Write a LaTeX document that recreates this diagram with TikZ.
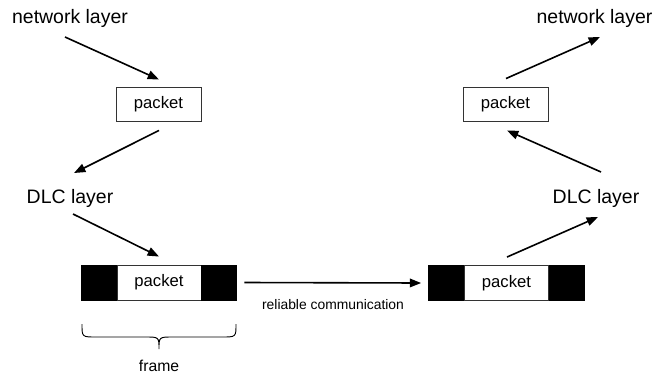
\documentclass[tikz,border=0pt]{standalone}
\usepackage{fontspec}
\setmainfont{Liberation Sans}
\usetikzlibrary{arrows.meta,calc}
\begin{document}
\begin{tikzpicture}[x=0.75pt,y=-0.75pt,
  lbl/.style={inner sep=0pt,font=\fontsize{14.6}{17}\selectfont},
  pkbox/.style={draw=black!80,line width=0.7pt,fill=white,inner sep=0pt,
    minimum width=63.75pt,minimum height=25.5pt,font=\fontsize{12.5}{14}\selectfont},
  pkw/.style={draw=black!80,line width=0.7pt,fill=white,inner sep=0pt,
    minimum width=63pt,minimum height=26.25pt,font=\fontsize{12.5}{14}\selectfont},
  blk/.style={draw=black,line width=0.7pt,fill=black,inner sep=0pt,
    minimum width=26.25pt,minimum height=26.25pt},
  arr/.style={line width=1.2pt,-{Triangle[length=8.5pt,width=6.5pt]}}]
\useasboundingbox (0,0) rectangle (654,379);
% labels
\node[lbl,anchor=base] (nlL) at (70,23) {network layer};
\node[lbl,anchor=base] (nlR) at (594.5,23) {network layer};
\node[lbl,anchor=base] (dlcL) at (70,203) {DLC layer};
\node[lbl,anchor=base] (dlcR) at (596,203) {DLC layer};
% packet boxes
\node[pkbox] (pkL) at (158.5,104) {packet};
\node[pkbox] (pkR) at (505.5,104) {packet};
% frames
\node[pkw] (fL) at (159,282.5) {packet};
\node[blk,anchor=east] (bL1) at (fL.west) {};
\node[blk,anchor=west] (bL2) at (fL.east) {};
\node[pkw] (fR) at (506.5,283) {packet};
\node[blk,anchor=east] (bR1) at (fR.west) {};
\node[blk,anchor=west] (bR2) at (fR.east) {};
% reliable communication
\draw[arr] ($(bL2.east)+(7,0)$) -- ($(bR1.west)+(-7,0)$);
\node[inner sep=0pt,font=\fontsize{10.4}{12}\selectfont] (rc) at (333,305) {reliable communication};
% brace
\draw[line width=0.7pt] (82,324) .. controls (82,337) .. (96,337) -- (145,337)
  .. controls (159,337) .. (159,349) .. controls (159,337) .. (173,337) -- (222,337)
  .. controls (236,337) .. (236,324);
\node[inner sep=0pt,font=\fontsize{11.8}{13}\selectfont] (fr) at (159,366) {frame};
% sender arrows
\draw[arr] ($(nlL.base)+(-5,14)$) -- ($(pkL.north)+(0.5,-7)$);
\draw[arr] ($(pkL.south)+(0.5,9)$) -- ($(dlcL.base)+(4,-30)$);
\draw[arr] ($(dlcL.base)+(3,11)$) -- ($(fL.north)+(0,-8)$);
% receiver arrows
\draw[arr] ($(fR.north)+(0.5,-8)$) -- ($(dlcR.base)+(2,14)$);
\draw[arr] ($(dlcR.base)+(5,-31)$) -- ($(pkR.south)+(1.5,9)$);
\draw[arr] ($(pkR.north)+(0.5,-8)$) -- ($(nlR.base)+(5.5,14)$);
\end{tikzpicture}
\end{document}
